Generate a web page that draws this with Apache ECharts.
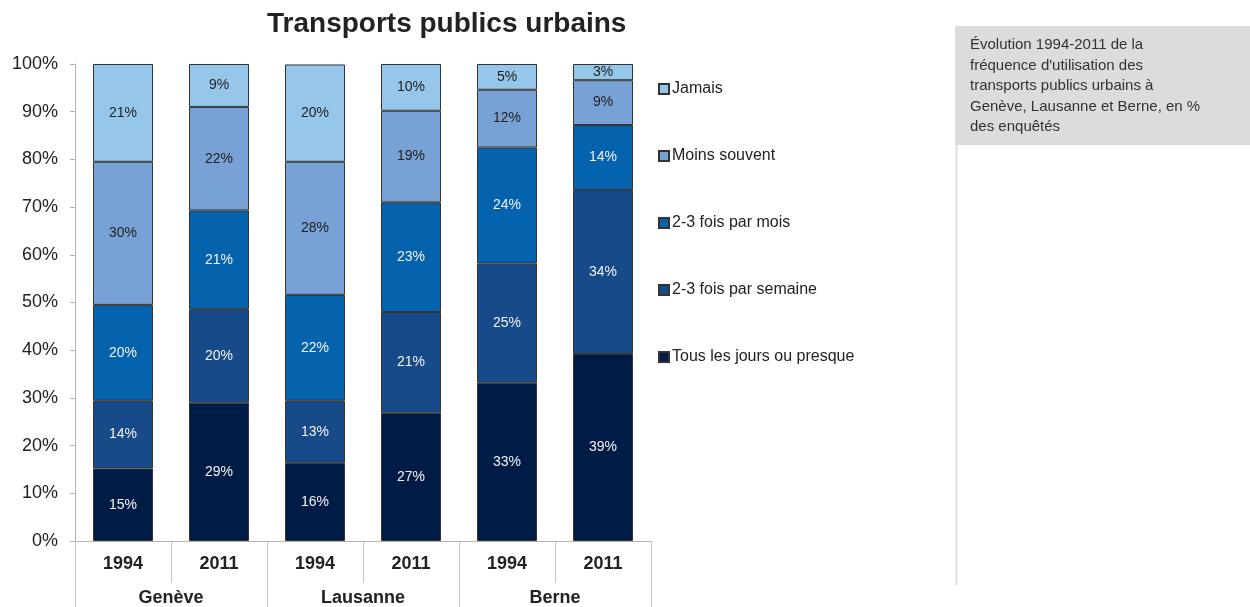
<!DOCTYPE html>
<html>
<head>
<meta charset="utf-8">
<script src="https://cdn.jsdelivr.net/npm/echarts@6/dist/echarts.min.js"></script>
<style>
  html, body { margin: 0; padding: 0; background: #fff; }
  #chart { width: 1250px; height: 607px; }
</style>
</head>
<body>
<div id="chart"></div>
<script>
// Survey groups along the x axis
const years = ['1994', '2011', '1994', '2011', '1994', '2011'];
const cities = ['Genève', 'Lausanne', 'Berne'];

// Share of respondents (%) per frequency class, one value per bar
const tousLesJours   = [15.2, 29.0, 16.4, 26.9, 33.2, 39.2];
const foisParSemaine = [14.2, 19.6, 13.0, 21.1, 25.0, 34.4];
const foisParMois    = [20.1, 20.7, 22.2, 23.0, 24.3, 13.6];
const moinsSouvent   = [30.0, 21.7, 27.9, 19.2, 12.1, 9.4];
const jamais         = [20.5, 9.0, 20.4, 9.8, 5.4, 3.4];

const seriesNames = ['Tous les jours ou presque', '2-3 fois par semaine', '2-3 fois par mois', 'Moins souvent', 'Jamais'];
const seriesData = [tousLesJours, foisParSemaine, foisParMois, moinsSouvent, jamais];
const seriesColors = ['#001b45', '#174a88', '#0562ad', '#78a2d5', '#97c6eb'];
const labelColors = ['#f2f2f2', '#f2f2f2', '#f2f2f2', '#222', '#222'];

const FONT = '"Liberation Sans", Arial, sans-serif';

const chart = echarts.init(document.getElementById('chart'), null, { renderer: 'canvas' });

chart.setOption({
  animation: false,
  backgroundColor: '#fff',
  title: {
    text: 'Transports publics urbains',
    left: 262,
    top: 5,
    textStyle: { fontFamily: FONT, fontSize: 28, fontWeight: 'bold', color: '#222' }
  },
  legend: {
    orient: 'vertical',
    left: 658,
    top: 81,
    padding: 0,
    itemWidth: 10,
    itemHeight: 10,
    itemGap: 51,
    icon: 'rect',
    data: seriesNames.slice().reverse(),
    textStyle: { fontFamily: FONT, fontSize: 16, color: '#222', padding: [0, 0, 0, -2] }
  },
  grid: { left: 75, right: 599, top: 64, bottom: 64 },
  xAxis: [
    {
      type: 'category',
      data: years,
      position: 'bottom',
      axisLine: { show: true, lineStyle: { color: '#b3b3b3', width: 1 } },
      axisTick: { show: true, interval: 0, length: 42, lineStyle: { color: '#c4c4c4', width: 1 } },
      axisLabel: { interval: 0, margin: 14, fontFamily: FONT, fontSize: 18, fontWeight: 'bold', color: '#222' }
    },
    {
      type: 'category',
      data: cities,
      position: 'bottom',
      offset: 42,
      axisLine: { show: false },
      axisTick: { show: true, interval: 0, length: 24, lineStyle: { color: '#c4c4c4', width: 1 } },
      axisLabel: { interval: 0, margin: 6, fontFamily: FONT, fontSize: 18, fontWeight: 'bold', color: '#222' }
    }
  ],
  yAxis: {
    type: 'value',
    min: 0,
    max: 100,
    interval: 10,
    axisLine: { show: true, lineStyle: { color: '#b3b3b3', width: 1 } },
    axisTick: { show: true, length: 5, lineStyle: { color: '#b3b3b3' } },
    splitLine: { show: false },
    axisLabel: { margin: 17, formatter: '{value}%', fontFamily: FONT, fontSize: 18, color: '#222' }
  },
  series: seriesNames.map((name, i) => ({
    name: name,
    type: 'bar',
    stack: 'total',
    xAxisIndex: 0,
    barWidth: 60,
    data: seriesData[i],
    itemStyle: { color: seriesColors[i], borderColor: '#333', borderWidth: 1 },
    label: {
      show: true,
      position: 'inside',
      formatter: p => Math.round(p.value) + '%',
      fontFamily: FONT,
      fontSize: 14,
      color: labelColors[i]
    }
  })),
  graphic: [
    {
      type: 'rect',
      shape: { x: 955, y: 26, width: 295, height: 119 },
      style: { fill: '#dcdcdd' },
      silent: true
    },
    {
      type: 'line',
      shape: { x1: 956.5, y1: 145, x2: 956.5, y2: 585 },
      style: { stroke: '#dddddd', lineWidth: 2 },
      silent: true
    },
    {
      type: 'text',
      x: 970,
      y: 35,
      style: {
        text: "Évolution 1994-2011 de la\nfréquence d'utilisation des\ntransports publics urbains à\nGenève, Lausanne et Berne, en %\ndes enquêtés",
        font: '15px ' + FONT,
        lineHeight: 20.5,
        fill: '#333'
      },
      silent: true
    }
  ]
});
</script>
</body>
</html>
